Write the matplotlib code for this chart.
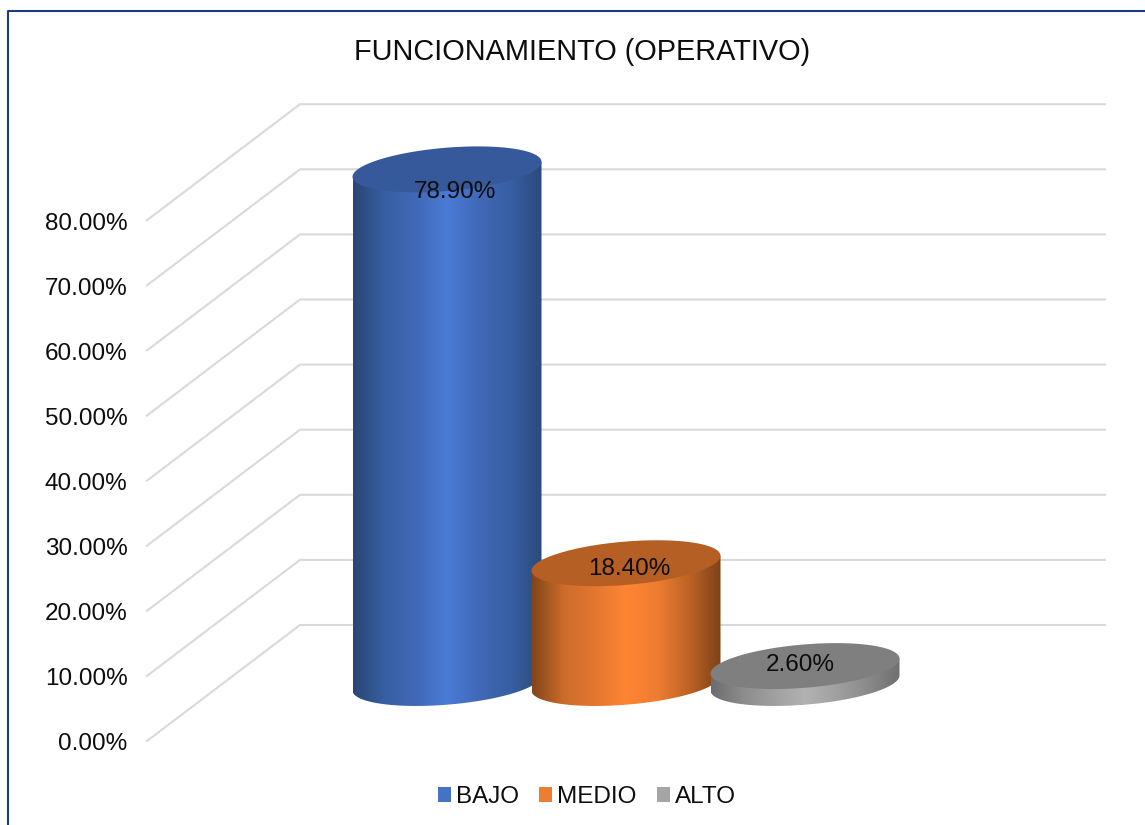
import matplotlib

matplotlib.use('Agg')
import matplotlib.pyplot as plt
import numpy as np
from matplotlib.colors import LinearSegmentedColormap
from matplotlib.patches import Patch, PathPatch
from matplotlib.path import Path
from matplotlib.transforms import ScaledTranslation

CATEGORIES = ["BAJO", "MEDIO", "ALTO"]
VALUES = [78.9, 18.4, 2.6]
TICKS = [0, 10, 20, 30, 40, 50, 60, 70, 80]
TITLE = "FUNCIONAMIENTO (OPERATIVO)"

LEGEND_COLORS = ["#4472c4", "#ed7d31", "#a5a5a5"]
TOP_COLORS = ["#35599a", "#b55f24", "#7f7f7f"]
BODY_STOPS = [
    ["#2a4675", "#375fa3", "#4169b8", "#4a7bd6", "#4169b8", "#375fa3", "#2c4a7c"],
    ["#824519", "#cc6c2b", "#e37730", "#ff8533", "#ee7c31", "#bc6326", "#7d4219"],
    ["#6c6c6c", "#8c8c8c", "#a0a0a0", "#b2b2b2", "#a0a0a0", "#8a8a8a", "#707070"],
]

W, H = 1145, 825
PX_LEFT, PX_RIGHT = 147, 1105
PX_ZERO, PX_TOP = 741, 104
PX_PER_PCT = 6.51
PX_PER_CAT = 179
PX_FIRST_CAT = 447

# depth of the fake 3d floor, in data units
DEPTH_X = 153 / PX_PER_CAT
DEPTH_Y = 116 / PX_PER_PCT
BASE_Y = 58 / PX_PER_PCT

# ellipse shape of the cylinders
RX = 94.5 / PX_PER_CAT
RY = 21.7 / PX_PER_PCT
TILT = 7.5 / PX_PER_PCT

LABEL_DX = [8 / PX_PER_CAT, 3 / PX_PER_CAT, -5 / PX_PER_CAT]
LABEL_DY = [-23 / PX_PER_PCT, -6 / PX_PER_PCT, 1 / PX_PER_PCT]


def ellipse_xy(cx, cy, t):
    x = cx + RX * np.cos(t)
    y = cy + RY * np.sin(t) + TILT * np.cos(t)
    return x, y


def draw_cylinder(ax, cx, value, stops, top_color, z):
    top_y = BASE_Y + value
    t = np.linspace(np.pi, 2 * np.pi, 80)
    bx, by = ellipse_xy(cx, BASE_Y, t)
    tx, ty = ellipse_xy(cx, top_y, np.array([0.0, np.pi]))
    verts = list(zip(bx, by)) + list(zip(tx, ty)) + [(bx[0], by[0])]
    codes = [Path.MOVETO] + [Path.LINETO] * (len(verts) - 2) + [Path.CLOSEPOLY]
    body = PathPatch(Path(verts, codes), transform=ax.transData, fc="none", ec="none")

    cmap = LinearSegmentedColormap.from_list("body", stops)
    grad = np.linspace(0, 1, 256).reshape(1, -1)
    im = ax.imshow(grad, cmap=cmap, aspect="auto", interpolation="bilinear", zorder=z,
                   extent=(cx - RX, cx + RX, BASE_Y - RY - TILT, top_y + RY + TILT))
    im.set_clip_path(body)

    t = np.linspace(0, 2 * np.pi, 160)
    ex, ey = ellipse_xy(cx, top_y, t)
    ax.fill(ex, ey, color=top_color, lw=0, zorder=z + 0.5)


def main():
    plt.rcParams["font.family"] = ["Liberation Sans", "DejaVu Sans"]

    fig = plt.figure(figsize=(W / 100, H / 100), dpi=100)
    ax = fig.add_axes([PX_LEFT / W, 1 - PX_ZERO / H,
                       (PX_RIGHT - PX_LEFT) / W, (PX_ZERO - PX_TOP) / H])

    # outer frame, only left and top show
    fig.add_artist(plt.Line2D([8 / W, 8 / W, 1], [0, 1 - 11 / H, 1 - 11 / H],
                              color="#1f3a7d", lw=1.5))

    for v in TICKS:
        x0 = (PX_LEFT - PX_FIRST_CAT) / PX_PER_CAT
        x1 = (PX_RIGHT - PX_FIRST_CAT) / PX_PER_CAT
        ax.plot([x0, x0 + DEPTH_X, x1], [v, v + DEPTH_Y, v + DEPTH_Y],
                color="#d9d9d9", lw=1.5, zorder=0.5, clip_on=False,
                solid_joinstyle="miter")

    xs = list(range(len(CATEGORIES)))
    for i, (x, v) in enumerate(zip(xs, VALUES)):
        draw_cylinder(ax, x, v, BODY_STOPS[i], TOP_COLORS[i], 3 + i)
        ax.text(x + LABEL_DX[i], BASE_Y + v + LABEL_DY[i], f"{v:.2f}%",
                ha="center", va="center", fontsize=17.5, color="#0d0d0d", zorder=10)

    ax.set_xlim((PX_LEFT - PX_FIRST_CAT) / PX_PER_CAT, (PX_RIGHT - PX_FIRST_CAT) / PX_PER_CAT)
    ax.set_ylim(0, (PX_ZERO - PX_TOP) / PX_PER_PCT)
    ax.set_xticks([])
    ax.set_yticks(TICKS)
    ax.set_yticklabels([f"{v:.2f}%" for v in TICKS], fontsize=17.5, color="#0d0d0d")
    ax.tick_params(axis="y", length=0, pad=14)
    down = ScaledTranslation(0, -1 / 100, fig.dpi_scale_trans)
    for lab in ax.get_yticklabels():
        lab.set_transform(lab.get_transform() + down)
    for s in ax.spines.values():
        s.set_visible(False)
    ax.patch.set_alpha(0)

    fig.text(582 / W, 1 - 52 / H, TITLE, ha="center", va="center",
             fontsize=20.8, color="#0d0d0d")

    handles = [Patch(fc=c, ec="none") for c in LEGEND_COLORS]
    fig.legend(handles, CATEGORIES, loc="center", bbox_to_anchor=(587 / W, 1 - 797 / H),
               ncol=3, frameon=False, fontsize=17.5, handlelength=0.54, handleheight=0.54,
               handletextpad=0.2, columnspacing=0.83, borderpad=0, labelcolor="#0d0d0d")

    fig.savefig("out.png", dpi=100)
    plt.close(fig)


if __name__ == "__main__":
    main()
